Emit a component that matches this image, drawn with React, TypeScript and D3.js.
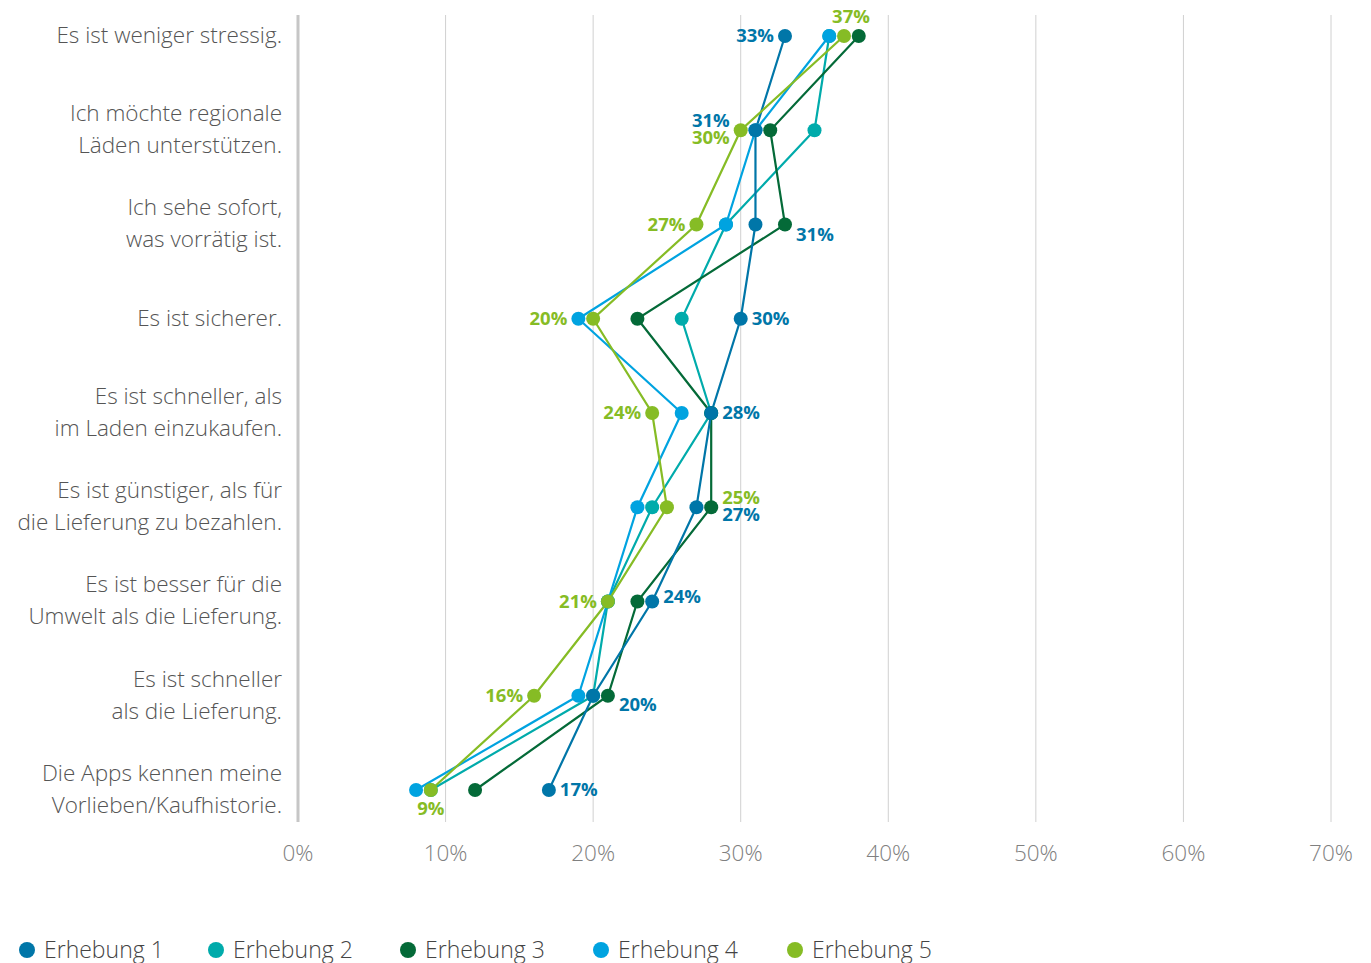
import React from "react";
import * as d3 from "d3";

const categories: string[][] = [
  ["Es ist weniger stressig."],
  ["Ich möchte regionale", "Läden unterstützen."],
  ["Ich sehe sofort,", "was vorrätig ist."],
  ["Es ist sicherer."],
  ["Es ist schneller, als", "im Laden einzukaufen."],
  ["Es ist günstiger, als für", "die Lieferung zu bezahlen."],
  ["Es ist besser für die", "Umwelt als die Lieferung."],
  ["Es ist schneller", "als die Lieferung."],
  ["Die Apps kennen meine", "Vorlieben/Kaufhistorie."],
];

const seriesNames = ["Erhebung 1", "Erhebung 2", "Erhebung 3", "Erhebung 4", "Erhebung 5"];
const erhebung1 = [33, 31, 31, 30, 28, 27, 24, 20, 17];
const erhebung2 = [36, 35, 29, 26, 28, 24, 21, 20, 9];
const erhebung3 = [38, 32, 33, 23, 28, 28, 23, 21, 12];
const erhebung4 = [36, 31, 29, 19, 26, 23, 21, 19, 8];
const erhebung5 = [37, 30, 27, 20, 24, 25, 21, 16, 9];
const seriesValues = [erhebung1, erhebung2, erhebung3, erhebung4, erhebung5];
const colors = ["#0076A8", "#00ABAB", "#046A38", "#00A3E0", "#86BC25"];
const xTicks = [0, 10, 20, 30, 40, 50, 60, 70];

// label placement (style only): side + nudges, anchored to the given series' dot
type Lab = { anchor: number; side: "left" | "right" | "above" | "below"; dy: number; dx: number };
const e1Labels: Lab[] = [
  { anchor: 0, side: "left", dy: 0, dx: 0 },
  { anchor: 4, side: "left", dy: -10, dx: 0 },
  { anchor: 2, side: "right", dy: 10, dx: 0 },
  { anchor: 0, side: "right", dy: 0, dx: 0 },
  { anchor: 0, side: "right", dy: 0, dx: 0 },
  { anchor: 2, side: "right", dy: 7, dx: 0 },
  { anchor: 0, side: "right", dy: -5, dx: 0 },
  { anchor: 2, side: "right", dy: 9, dx: 0 },
  { anchor: 0, side: "right", dy: 0, dx: 0 },
];
const e5Labels: Lab[] = [
  { anchor: 4, side: "above", dy: 0, dx: 7 },
  { anchor: 4, side: "left", dy: 7, dx: 0 },
  { anchor: 4, side: "left", dy: 0, dx: 0 },
  { anchor: 3, side: "left", dy: 0, dx: 0 },
  { anchor: 4, side: "left", dy: 0, dx: 0 },
  { anchor: 2, side: "right", dy: -10, dx: 0 },
  { anchor: 4, side: "left", dy: 0, dx: 0 },
  { anchor: 4, side: "left", dy: 0, dx: 0 },
  { anchor: 4, side: "below", dy: 0, dx: 0 },
];

const drawOrder = [1, 2, 3, 0, 4];

export default function App() {
  const W = 1371, H = 963;
  const x = d3.scaleLinear().domain([0, 70]).range([298, 1331]);
  const y = d3.scalePoint<number>().domain(d3.range(categories.length)).range([36, 790]);
  const gridTop = 15, gridBottom = 822;
  const line = d3.line<[number, number]>().x((d) => x(d[0])).y((d) => y(d[1])!);

  const labelEls: any[] = [];
  const addLabels = (labs: Lab[], s: number) => {
    labs.forEach((lab, i) => {
      const v = seriesValues[lab.anchor][i];
      const cx = x(v), cy = y(i)!;
      let tx = cx + lab.dx, ty = cy + lab.dy, anchor = "middle";
      if (lab.side === "left") { tx = cx - 11; anchor = "end"; }
      if (lab.side === "right") { tx = cx + 11; anchor = "start"; }
      if (lab.side === "above") { ty = cy - 19; }
      if (lab.side === "below") { ty = cy + 19; }
      labelEls.push(
        <text key={`l${s}-${i}`} x={tx} y={ty} dy="0.35em" textAnchor={anchor}
          fill={colors[s]} fontSize={18.5} fontWeight={700}>
          {seriesValues[s][i]}%
        </text>
      );
    });
  };
  addLabels(e1Labels, 0);
  addLabels(e5Labels, 4);

  const legendX = [27, 216, 408, 601, 795];

  return (
    <svg width={W} height={H} style={{ position: "absolute", left: 0, top: 0, fontFamily: "'Open Sans', sans-serif" }}>
      <rect width={W} height={H} fill="#fff" />
      {xTicks.slice(1).map((t) => (
        <line key={t} x1={x(t)} x2={x(t)} y1={gridTop} y2={gridBottom} stroke="#d0d0d0" strokeWidth={1} />
      ))}
      <line x1={x(0)} x2={x(0)} y1={gridTop} y2={gridBottom} stroke="#c6c6c6" strokeWidth={3} />
      {xTicks.map((t) => (
        <text key={t} x={x(t)} y={861} textAnchor="middle" fontSize={22.5} fontWeight={300} fill="#808080">{t}%</text>
      ))}
      {categories.map((lines, i) => (
        <text key={i} textAnchor="end" fontSize={22.5} fontWeight={300} fill="#555">
          {lines.map((ln, j) => (
            <tspan key={j} x={282} y={y(i)! + (j - (lines.length - 1) / 2) * 32} dy="0.3em">{ln}</tspan>
          ))}
        </text>
      ))}
      {drawOrder.map((s) => (
        <path key={`p${s}`} d={line(seriesValues[s].map((v, i) => [v, i] as [number, number]))!}
          fill="none" stroke={colors[s]} strokeWidth={2.2} />
      ))}
      {drawOrder.map((s) => (
        <g key={`d${s}`}>
          {seriesValues[s].map((v, i) => (
            <circle key={i} cx={x(v)} cy={y(i)!} r={7} fill={colors[s]} />
          ))}
        </g>
      ))}
      {labelEls}
      {seriesNames.map((n, s) => (
        <g key={n}>
          <circle cx={legendX[s]} cy={950} r={8} fill={colors[s]} />
          <text x={legendX[s] + 17} y={950} dy="0.35em" fontSize={23} fontWeight={300} fill="#444">{n}</text>
        </g>
      ))}
    </svg>
  );
}
